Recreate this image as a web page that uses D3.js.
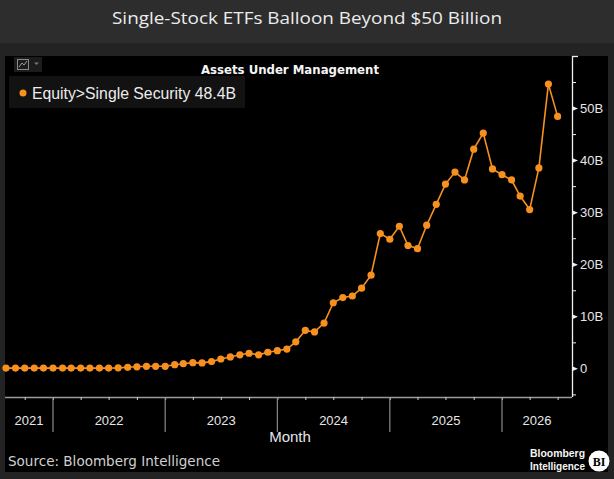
<!DOCTYPE html>
<html>
<head>
<meta charset="utf-8">
<script src="https://cdn.jsdelivr.net/npm/d3@7"></script>
<style>
  html, body { margin: 0; padding: 0; background: #232323; }
  svg { display: block; }
</style>
</head>
<body>
<div></div>
<script>
// monthly AUM, billions USD (Equity>Single Security)
const firstMonth = new Date(2021, 7, 1);
const aum = [
  0.05, 0.05, 0.05, 0.05, 0.05, 0.05, 0.05, 0.05, 0.05, 0.05, 0.05, 0.05,
  0.1, 0.2, 0.3, 0.4, 0.4, 0.4, 0.7, 0.9, 1.1, 1.05, 1.3, 1.8,
  2.2, 2.6, 2.9, 2.6, 3.1, 3.4, 3.7, 5.1, 7.3, 7.0, 8.7, 12.6,
  13.6, 13.9, 15.4, 17.9, 25.9, 24.8, 27.3, 23.6, 23.0, 27.5, 31.5, 35.4,
  37.7, 36.2, 42.1, 45.2, 38.3, 37.2, 36.2, 33.1, 30.5, 38.5, 54.6, 48.4
];
const months = aum.map((v, i) => d3.timeMonth.offset(firstMonth, i));
const data = months.map((m, i) => ({ date: m, value: aum[i] }));

const yTicks = [-5, 0, 5, 10, 15, 20, 25, 30, 35, 40, 45, 50, 55];
const yearTicks = [2022, 2023, 2024, 2025, 2026].map(y => new Date(y, 0, 1));
const yearLabels = ["2021", "2022", "2023", "2024", "2025", "2026"];

const title = "Single-Stock ETFs Balloon Beyond $50 Billion";
const chartTitle = "Assets Under Management";
const seriesName = "Equity>Single Security";
const source = "Source: Bloomberg Intelligence";

const w = 614;
const h = 479;
const orange = "#f7901e";
const plotL = 5, plotR = 572, plotT = 56, plotB = 397;

const svg = d3.select("div")
              .append("svg")
              .attr("width", w)
              .attr("height", h)
              .style("background-color", "#232323");

// header + panel
svg.append("rect").attr("x", 0).attr("y", 0).attr("width", w).attr("height", 43).attr("fill", "#2d2d2d");
svg.append("rect").attr("x", 5).attr("y", 56).attr("width", 603).attr("height", 416).attr("fill", "#000");

svg.append("text")
   .attr("x", w / 2)
   .attr("y", 24)
   .attr("text-anchor", "middle")
   .attr("fill", "#ececec")
   .style("font-family", "'Open Sans', sans-serif")
   .style("font-size", "17px")
   .attr("textLength", 390)
   .attr("lengthAdjust", "spacingAndGlyphs")
   .text(title);

// scales
const xScale = d3.scaleTime()
                 .domain([new Date(2022, 0, 1), new Date(2026, 0, 1)])
                 .range([53, 502]);

const yScale = d3.scaleLinear()
                 .domain([-5.5, 60])
                 .range([plotB, plotT]);

// x axis: quarterly ticks
const xAxis = d3.axisBottom(xScale)
                .tickValues(d3.timeMonth.every(3).range(new Date(2021, 9, 1), new Date(2026, 7, 1)))
                .tickSize(3)
                .tickFormat("");

const gx = svg.append("g")
              .attr("transform", "translate(0," + plotB + ")")
              .call(xAxis);
gx.select(".domain").attr("d", `M${plotL},0.5H${plotR}`).attr("stroke", "#9a9a9a").attr("stroke-width", 1.6);
gx.selectAll(".tick line").attr("stroke", "#d0d0d0");

// year separators
svg.selectAll("line.sep")
   .data(yearTicks)
   .enter()
   .append("line")
   .attr("class", "sep")
   .attr("x1", d => xScale(d))
   .attr("x2", d => xScale(d))
   .attr("y1", plotB)
   .attr("y2", 432)
   .attr("stroke", "#8a8a8a")
   .attr("stroke-width", 1.2);

// year labels centred in visible part of each year
svg.selectAll("text.year")
   .data(yearLabels)
   .enter()
   .append("text")
   .attr("class", "year")
   .attr("x", d => {
      const a = Math.max(plotL, xScale(new Date(+d, 0, 1)));
      const b = Math.min(plotR, xScale(new Date(+d + 1, 0, 1)));
      return (a + b) / 2;
   })
   .attr("y", 425)
   .attr("text-anchor", "middle")
   .attr("fill", "#e6e6e6")
   .style("font-family", "'Liberation Sans Narrow', 'Liberation Sans', sans-serif")
   .style("font-size", "13px")
   .text(d => d);

svg.append("text")
   .attr("x", 290)
   .attr("y", 442)
   .attr("text-anchor", "middle")
   .attr("fill", "#e6e6e6")
   .style("font-family", "'Liberation Sans Narrow', 'Liberation Sans', sans-serif")
   .style("font-size", "15px")
   .text("Month");

// y axis on the right
const yAxis = d3.axisRight(yScale)
                .tickValues(yTicks)
                .tickSize(4)
                .tickPadding(4)
                .tickFormat(d => d % 10 === 0 ? (d === 0 ? "0" : d + "B") : "");

const gy = svg.append("g")
              .attr("transform", "translate(" + plotR + ",0)")
              .call(yAxis);
gy.select(".domain").attr("d", `M0.5,${plotT}V${plotB}`).attr("stroke", "#f0f0f0").attr("stroke-width", 1.3);
gy.selectAll(".tick line").attr("stroke", "#f0f0f0");
gy.selectAll(".tick")
  .filter(d => d % 10 === 0)
  .each(function() {
     d3.select(this).select("line").remove();
     d3.select(this).append("path").attr("d", "M0,-2.5L6,0L0,2.5Z").attr("fill", "#f0f0f0");
  });
gy.selectAll(".tick text")
  .attr("fill", "#e6e6e6")
  .attr("x", 8)
  .style("font-family", "'Liberation Sans Narrow', 'Liberation Sans', sans-serif")
  .style("font-size", "13px");
// top cap
svg.append("line").attr("x1", plotR).attr("x2", plotR + 6).attr("y1", plotT + 0.5).attr("y2", plotT + 0.5).attr("stroke", "#f0f0f0").attr("stroke-width", 1.3);

// line + dots
const line = d3.line()
               .x(d => xScale(d.date))
               .y(d => yScale(d.value));

svg.append("path")
   .datum(data)
   .attr("d", line)
   .attr("fill", "none")
   .attr("stroke", orange)
   .attr("stroke-width", 1.6);

svg.selectAll("circle.dot")
   .data(data)
   .enter()
   .append("circle")
   .attr("class", "dot")
   .attr("cx", d => xScale(d.date))
   .attr("cy", d => yScale(d.value))
   .attr("r", 3.6)
   .attr("fill", orange);

// chart title
svg.append("text")
   .attr("x", 290)
   .attr("y", 74)
   .attr("text-anchor", "middle")
   .attr("fill", "#f5f5f5")
   .style("font-family", "'DejaVu Sans', sans-serif")
   .style("font-weight", "bold")
   .style("font-size", "12px")
   .attr("textLength", 178)
   .attr("lengthAdjust", "spacingAndGlyphs")
   .text(chartTitle);

// chart-type icon
svg.append("rect").attr("x", 14).attr("y", 57).attr("width", 28).attr("height", 15).attr("fill", "#1c1c1c");
svg.append("rect").attr("x", 17.5).attr("y", 59.5).attr("width", 11).attr("height", 10).attr("fill", "none").attr("stroke", "#8a8a8a");
svg.append("path").attr("d", "M19,67L22,63L24,65L27,61").attr("fill", "none").attr("stroke", "#bbb").attr("stroke-width", 0.8);
svg.append("path").attr("d", "M34,62.5L39,62.5L36.5,65Z").attr("fill", "#777");

// legend
const legend = svg.append("g");
legend.append("rect").attr("x", 9).attr("y", 76).attr("width", 236).attr("height", 32).attr("fill", "#121212");
legend.append("circle").attr("cx", 23).attr("cy", 93).attr("r", 3.5).attr("fill", orange);
legend.append("text")
      .attr("x", 32)
      .attr("y", 99)
      .attr("fill", "#ececec")
      .style("font-family", "'Liberation Sans Narrow', 'Liberation Sans', sans-serif")
      .style("font-size", "17px")
      .attr("textLength", 204)
      .attr("lengthAdjust", "spacingAndGlyphs")
      .text(seriesName + " " + aum[aum.length - 1].toFixed(1) + "B");

// footer
svg.append("text")
   .attr("x", 8)
   .attr("y", 466)
   .attr("fill", "#d0d0d0")
   .style("font-family", "'DejaVu Sans', sans-serif")
   .style("font-size", "14px")
   .attr("textLength", 212)
   .attr("lengthAdjust", "spacingAndGlyphs")
   .text(source);

const logo = svg.append("g")
                .attr("fill", "#f5f5f5")
                .style("font-family", "'Liberation Sans', sans-serif")
                .style("font-weight", "bold")
                .style("font-size", "11.5px");
logo.append("text").attr("x", 530).attr("y", 457).attr("textLength", 55).attr("lengthAdjust", "spacingAndGlyphs").text("Bloomberg");
logo.append("text").attr("x", 530).attr("y", 470).attr("textLength", 55).attr("lengthAdjust", "spacingAndGlyphs").text("Intelligence");
svg.append("circle").attr("cx", 599).attr("cy", 461).attr("r", 10.5).attr("fill", "#fff");
svg.append("text")
   .attr("x", 599)
   .attr("y", 465.5)
   .attr("text-anchor", "middle")
   .attr("fill", "#000")
   .style("font-family", "'Liberation Serif', serif")
   .style("font-weight", "bold")
   .style("font-size", "12px")
   .text("BI");
</script>
</body>
</html>
